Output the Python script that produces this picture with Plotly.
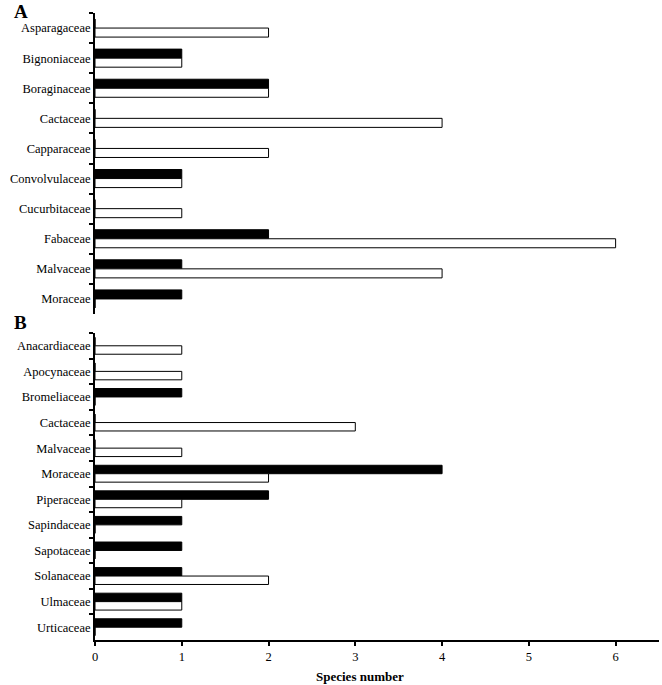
import plotly.graph_objects as go

families_a = ['Asparagaceae', 'Bignoniaceae', 'Boraginaceae', 'Cactaceae', 'Capparaceae',
              'Convolvulaceae', 'Cucurbitaceae', 'Fabaceae', 'Malvaceae', 'Moraceae']
black_a = [0, 1, 2, 0, 0, 1, 0, 2, 1, 1]
white_a = [2, 1, 2, 4, 2, 1, 1, 6, 4, 0]

families_b = ['Anacardiaceae', 'Apocynaceae', 'Bromeliaceae', 'Cactaceae', 'Malvaceae', 'Moraceae',
              'Piperaceae', 'Sapindaceae', 'Sapotaceae', 'Solanaceae', 'Ulmaceae', 'Urticaceae']
black_b = [0, 0, 1, 0, 0, 4, 2, 1, 1, 1, 1, 1]
white_b = [1, 1, 0, 3, 1, 2, 1, 0, 0, 2, 1, 0]

font = dict(family='Liberation Serif', size=12.5, color='black')

fig = go.Figure()
# black bar sits just above the white one in each category
for vals, fill, fam, xa, ya, w, off in [(black_a, 'black', families_a, 'x2', 'y2', 0.3, -0.3),
                                        (white_a, 'white', families_a, 'x2', 'y2', 0.3, 0),
                                        (black_b, 'black', families_b, 'x', 'y', 0.33, -0.33),
                                        (white_b, 'white', families_b, 'x', 'y', 0.33, 0)]:
    fig.add_trace(go.Bar(x=vals, y=fam, orientation='h', xaxis=xa, yaxis=ya,
                         width=w, offset=off,
                         marker=dict(color=fill, line=dict(color='black', width=1)),
                         showlegend=False))

yax = dict(type='category', autorange='reversed', showline=True, linecolor='black', linewidth=2,
           ticks='outside', tickson='boundaries', ticklen=4, tickwidth=2, tickcolor='black',
           showgrid=False, zeroline=False, tickfont=font, automargin=False)

L, R, T, B = 95, 3, 13, 45
W, H = 662, 685
plot_w = W - L - R
plot_h = H - T - B

fig.update_layout(
    width=W, height=H,
    margin=dict(l=L, r=R, t=T, b=B, autoexpand=False),
    plot_bgcolor='white', paper_bgcolor='white',
    barmode='overlay',
    font=font,
    xaxis=dict(range=[0, 6.5], showline=True, linecolor='black', linewidth=2, ticks='outside',
               ticklen=4, tickwidth=2, tickcolor='black', tickvals=[0, 1, 2, 3, 4, 5, 6],
               showgrid=False, zeroline=False, tickfont=font, anchor='y',
               automargin=False),
    xaxis2=dict(range=[0, 6.5], matches='x', visible=False, anchor='y2'),
    yaxis=dict(domain=[0, (H - B - 333) / plot_h], anchor='x', **yax),
    yaxis2=dict(domain=[(H - B - 314) / plot_h, 1], anchor='x2', **yax),
)

for letter, px_y in [('A', 12), ('B', 322)]:
    fig.add_annotation(text='<b>' + letter + '</b>', xref='paper', yref='paper',
                       x=(12 - L) / plot_w, y=(H - B - px_y) / plot_h,
                       xanchor='left', yanchor='middle', showarrow=False,
                       font=dict(family='Liberation Serif', size=19, color='black'))

fig.add_annotation(text='<b>Species number</b>', xref='x', yref='paper',
                   x=3.05, y=(H - B - 676) / plot_h,
                   xanchor='center', yanchor='middle', showarrow=False,
                   font=dict(family='Liberation Serif', size=13, color='black'))

# page body has a default 8px margin, drop it so the figure sits at the corner
fig.write_html('out.html', config={'displayModeBar': False},
               post_script="document.body.style.margin='0';")
